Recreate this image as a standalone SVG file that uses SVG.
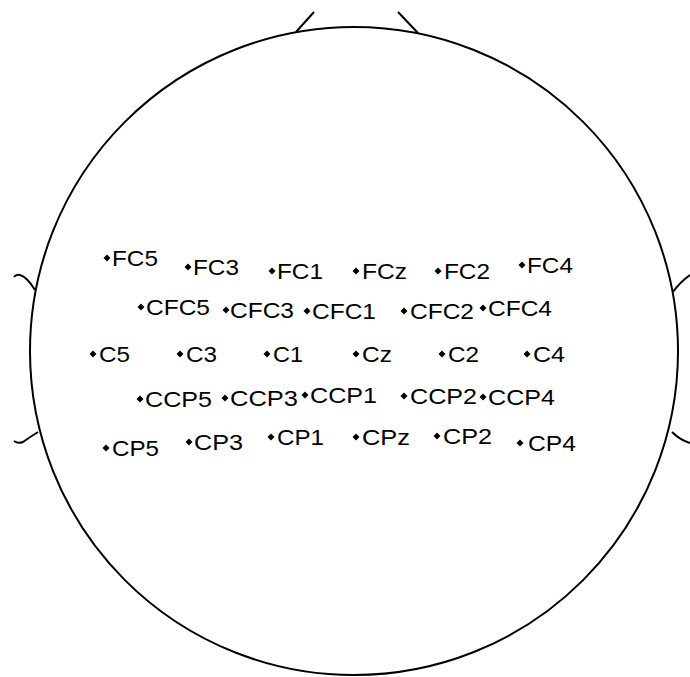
<svg xmlns="http://www.w3.org/2000/svg" width="690" height="677" viewBox="0 0 690 677">
<style>
.head{fill:none;stroke:#000;stroke-width:2}
.lbl{font-family:"Liberation Sans",Arial,sans-serif;font-size:22px;fill:#000}
</style>
<defs>
<path id="dot" d="M0,-3.5 L3.5,0 L0,3.5 L-3.5,0 Z" fill="#000"/>
</defs>
<rect width="690" height="677" fill="#fff"/>
<g id="head">
<circle class="head" cx="354" cy="351" r="324"/>
<path class="head" d="M296,32 L314,12 M398,12 L418,33"/>
<path class="head" d="M35,290 Q27,277 20,275 Q16,274 14,277"/>
<path class="head" d="M38,432 Q30,437 23,442 Q18,444 14,441"/>
<path class="head" d="M673,292 Q680,282 690,275"/>
<path class="head" d="M672,432 Q680,440 690,443"/>
</g>
<g id="connectors"/>
<g id="FC5"><use href="#dot" x="107" y="258"/><text class="lbl" x="112" y="266" textLength="46" lengthAdjust="spacingAndGlyphs">FC5</text></g>
<g id="FC3"><use href="#dot" x="188" y="267"/><text class="lbl" x="193" y="275" textLength="46" lengthAdjust="spacingAndGlyphs">FC3</text></g>
<g id="FC1"><use href="#dot" x="272" y="271"/><text class="lbl" x="277" y="279" textLength="46" lengthAdjust="spacingAndGlyphs">FC1</text></g>
<g id="FCz"><use href="#dot" x="356" y="271"/><text class="lbl" x="362" y="279" textLength="45" lengthAdjust="spacingAndGlyphs">FCz</text></g>
<g id="FC2"><use href="#dot" x="438" y="271"/><text class="lbl" x="444" y="279" textLength="46" lengthAdjust="spacingAndGlyphs">FC2</text></g>
<g id="FC4"><use href="#dot" x="522" y="265"/><text class="lbl" x="527" y="273" textLength="46" lengthAdjust="spacingAndGlyphs">FC4</text></g>
<g id="CFC5"><use href="#dot" x="141" y="307"/><text class="lbl" x="146" y="315" textLength="64" lengthAdjust="spacingAndGlyphs">CFC5</text></g>
<g id="CFC3"><use href="#dot" x="226" y="310"/><text class="lbl" x="230" y="318" textLength="64" lengthAdjust="spacingAndGlyphs">CFC3</text></g>
<g id="CFC1"><use href="#dot" x="307" y="311"/><text class="lbl" x="312" y="319" textLength="64" lengthAdjust="spacingAndGlyphs">CFC1</text></g>
<g id="CFC2"><use href="#dot" x="404" y="311"/><text class="lbl" x="410" y="319" textLength="64" lengthAdjust="spacingAndGlyphs">CFC2</text></g>
<g id="CFC4"><use href="#dot" x="483" y="308"/><text class="lbl" x="488" y="316" textLength="64" lengthAdjust="spacingAndGlyphs">CFC4</text></g>
<g id="C5"><use href="#dot" x="93" y="354"/><text class="lbl" x="99" y="362" textLength="31" lengthAdjust="spacingAndGlyphs">C5</text></g>
<g id="C3"><use href="#dot" x="180" y="354"/><text class="lbl" x="186" y="362" textLength="31" lengthAdjust="spacingAndGlyphs">C3</text></g>
<g id="C1"><use href="#dot" x="267" y="354"/><text class="lbl" x="273" y="362" textLength="30" lengthAdjust="spacingAndGlyphs">C1</text></g>
<g id="Cz"><use href="#dot" x="356" y="354"/><text class="lbl" x="362" y="362" textLength="30" lengthAdjust="spacingAndGlyphs">Cz</text></g>
<g id="C2"><use href="#dot" x="442" y="354"/><text class="lbl" x="448" y="362" textLength="31" lengthAdjust="spacingAndGlyphs">C2</text></g>
<g id="C4"><use href="#dot" x="527" y="354"/><text class="lbl" x="533" y="362" textLength="32" lengthAdjust="spacingAndGlyphs">C4</text></g>
<g id="CCP5"><use href="#dot" x="140" y="399"/><text class="lbl" x="145" y="407" textLength="67" lengthAdjust="spacingAndGlyphs">CCP5</text></g>
<g id="CCP3"><use href="#dot" x="225" y="398"/><text class="lbl" x="230" y="406" textLength="68" lengthAdjust="spacingAndGlyphs">CCP3</text></g>
<g id="CCP1"><use href="#dot" x="305" y="395"/><text class="lbl" x="310" y="403" textLength="67" lengthAdjust="spacingAndGlyphs">CCP1</text></g>
<g id="CCP2"><use href="#dot" x="404" y="396"/><text class="lbl" x="410" y="404" textLength="67" lengthAdjust="spacingAndGlyphs">CCP2</text></g>
<g id="CCP4"><use href="#dot" x="483" y="397"/><text class="lbl" x="488" y="405" textLength="67" lengthAdjust="spacingAndGlyphs">CCP4</text></g>
<g id="CP5"><use href="#dot" x="106" y="448"/><text class="lbl" x="112" y="456" textLength="47" lengthAdjust="spacingAndGlyphs">CP5</text></g>
<g id="CP3"><use href="#dot" x="189" y="442"/><text class="lbl" x="194" y="450" textLength="49" lengthAdjust="spacingAndGlyphs">CP3</text></g>
<g id="CP1"><use href="#dot" x="271" y="437"/><text class="lbl" x="277" y="445" textLength="47" lengthAdjust="spacingAndGlyphs">CP1</text></g>
<g id="CPz"><use href="#dot" x="356" y="437"/><text class="lbl" x="362" y="445" textLength="48" lengthAdjust="spacingAndGlyphs">CPz</text></g>
<g id="CP2"><use href="#dot" x="437" y="436"/><text class="lbl" x="443" y="444" textLength="49" lengthAdjust="spacingAndGlyphs">CP2</text></g>
<g id="CP4"><use href="#dot" x="520" y="443"/><text class="lbl" x="528" y="451" textLength="48" lengthAdjust="spacingAndGlyphs">CP4</text></g>
</svg>
